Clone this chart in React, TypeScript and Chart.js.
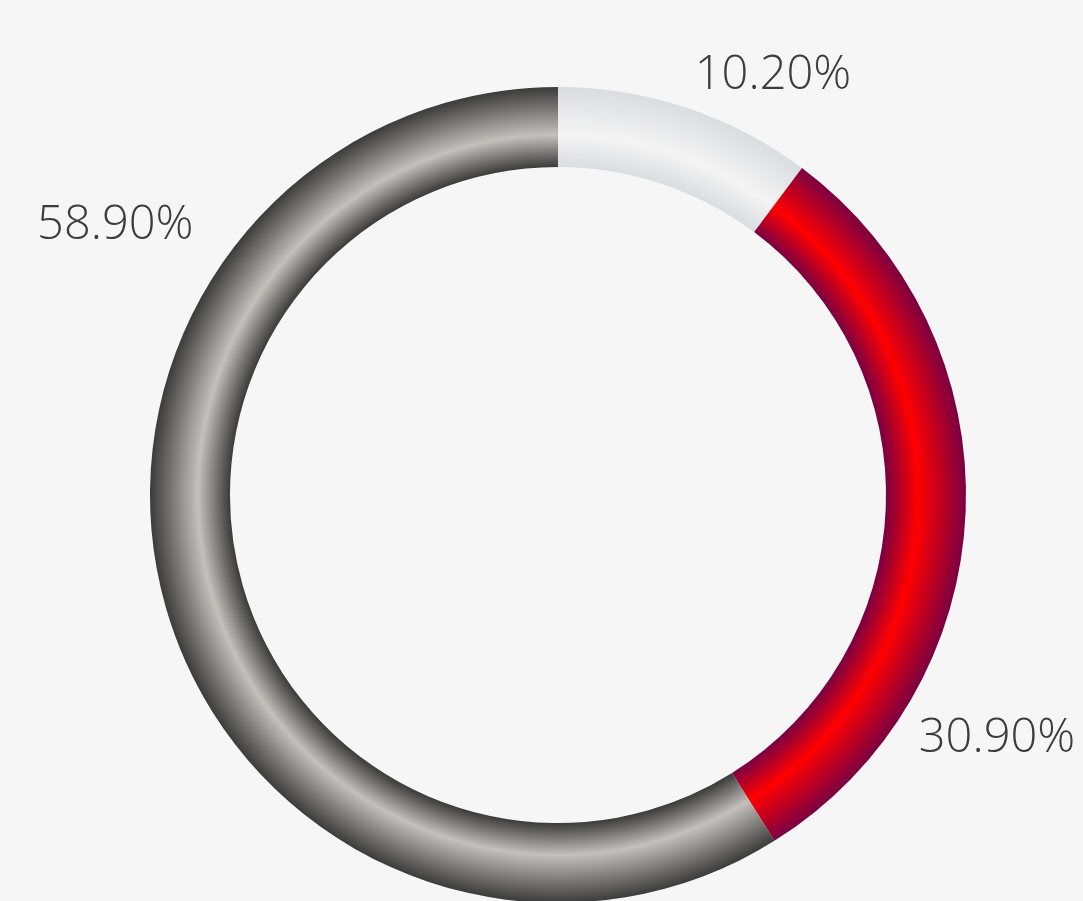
import React, { useEffect, useRef } from "react";
import { Chart, registerables } from "chart.js";

Chart.register(...registerables);

const categories = ["Light", "Red", "Dark"];
const values = [10.2, 30.9, 58.9];
const labelTexts = ["10.20%", "30.90%", "58.90%"];

// gradient stops per segment: edge colour, highlight colour
const edgeColors = ["#dbdcdf", "#7a0042", "#3b3b3b"];
const highlightColors = ["#f4f4f4", "#ff0000", "#c4c0bc"];

// label placement relative to chart centre, in units of outer radius (x centre, baseline y)
const labelOffsets = [
  [0.527, -0.995],
  [1.076, 0.63],
  [-1.085, -0.627],
];

const CUTOUT = 0.804;
const BG = "#f6f6f6";

const labelPlugin = {
  id: "ringLabels",
  afterDatasetsDraw(chart: any) {
    const meta = chart.getDatasetMeta(0);
    const ctx = chart.ctx;
    ctx.save();
    ctx.font = '300 47px "Open Sans", "DejaVu Sans", sans-serif';
    ctx.fillStyle = "#3c3c3c";
    ctx.textAlign = "center";
    ctx.textBaseline = "alphabetic";
    meta.data.forEach((arc: any, i: number) => {
      const { x, y, outerRadius } = arc.getProps(["x", "y", "outerRadius"], true);
      const [fx, fy] = labelOffsets[i];
      ctx.fillText(labelTexts[i], x + fx * outerRadius, y + fy * outerRadius);
    });
    ctx.restore();
  },
};

export default function App() {
  const ref = useRef<HTMLCanvasElement | null>(null);

  useEffect(() => {
    document.body.style.margin = "0";
    document.body.style.overflow = "hidden";
    document.body.style.background = BG;
    const canvas = ref.current!;
    const chart = new Chart(canvas, {
      type: "doughnut",
      data: {
        labels: categories,
        datasets: [
          {
            data: values,
            borderWidth: 0,
            backgroundColor: (context: any) => {
              const i = context.dataIndex;
              const c = context.chart;
              const a = c.chartArea;
              if (!a) return highlightColors[i];
              const cx = (a.left + a.right) / 2;
              const cy = (a.top + a.bottom) / 2;
              const outer = Math.min(a.right - a.left, a.bottom - a.top) / 2;
              const inner = outer * CUTOUT;
              const g = c.ctx.createRadialGradient(cx, cy, inner, cx, cy, outer);
              g.addColorStop(0, edgeColors[i]);
              g.addColorStop(0.4, highlightColors[i]);
              g.addColorStop(1, edgeColors[i]);
              return g;
            },
          },
        ],
      },
      options: {
        responsive: false,
        animation: false,
        cutout: CUTOUT * 100 + "%",
        layout: { padding: { left: 150, right: 117, top: 87, bottom: 2 } },
        plugins: {
          legend: { display: false },
          tooltip: { enabled: false },
        },
      },
      plugins: [labelPlugin],
    });
    return () => chart.destroy();
  }, []);

  return (
    <div style={{ width: 1083, height: 901, background: BG, overflow: "hidden" }}>
      <canvas ref={ref} width={1083} height={905} style={{ display: "block" }} />
    </div>
  );
}
